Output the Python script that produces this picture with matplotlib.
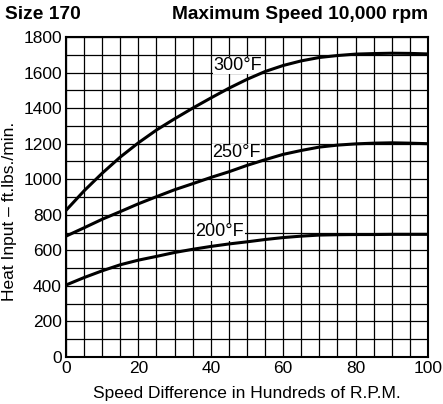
import numpy as np
import matplotlib.pyplot as plt
from matplotlib.ticker import MultipleLocator

plt.rcParams['font.family'] = ['Liberation Sans', 'DejaVu Sans']

# speed difference, hundreds of rpm
speed = [0, 5, 10, 15, 20, 25, 30, 35, 40, 45, 50,
         55, 60, 65, 70, 75, 80, 85, 90, 95, 100]

heat_300 = [825, 935, 1034, 1125, 1205, 1277, 1340, 1400, 1457, 1512, 1562,
            1606, 1640, 1666, 1685, 1696, 1704, 1707, 1709, 1708, 1705]
heat_250 = [680, 727, 775, 818, 862, 902, 941, 975, 1010, 1042, 1078,
            1110, 1140, 1162, 1181, 1192, 1199, 1203, 1205, 1203, 1200]
heat_200 = [405, 447, 485, 519, 545, 566, 588, 606, 622, 636, 648,
            661, 672, 680, 686, 688, 689, 689, 690, 690, 690]

labels = ['300°F', '250°F', '200°F']
label_pos = [(47.5, 1640), (47.2, 1150), (42.5, 705)]

fig = plt.figure(figsize=(4.43, 4.04), dpi=100)
ax = fig.add_axes([0.149, 0.1163, 0.817, 0.792])

for ys in (heat_300, heat_250, heat_200):
    ax.plot(speed, ys, color='black', lw=2.2, solid_capstyle='butt', zorder=3)

# labels sit on a white patch over the grid, under the curves
for txt, (x, y) in zip(labels, label_pos):
    ax.text(x, y, txt, fontsize=13, ha='center', va='center', zorder=2.5,
            bbox=dict(facecolor='white', edgecolor='none', pad=0.3))

ax.set_xlim(0, 100)
ax.set_ylim(0, 1800)
ax.xaxis.set_major_locator(MultipleLocator(20))
ax.xaxis.set_minor_locator(MultipleLocator(5))
ax.yaxis.set_major_locator(MultipleLocator(200))
ax.yaxis.set_minor_locator(MultipleLocator(100))
ax.grid(True, which='both', color='black', lw=0.9, zorder=1)
ax.set_axisbelow(True)
ax.tick_params(which='both', length=0, labelsize=12.5, pad=3)
for s in ax.spines.values():
    s.set_linewidth(1.5)

ax.set_xlabel('Speed Difference in Hundreds of R.P.M.', fontsize=12.5, labelpad=7)
ax.set_ylabel('Heat Input – ft.lbs./min.', fontsize=12.5)
ax.yaxis.set_label_coords(-0.135, 0.455)

fig.text(0.012, 0.963, 'Size 170', fontsize=13.8, fontweight='bold', va='center')
fig.text(0.966, 0.963, 'Maximum Speed 10,000 rpm', fontsize=13.8,
         fontweight='bold', va='center', ha='right')

fig.savefig('out.png', dpi=100)
